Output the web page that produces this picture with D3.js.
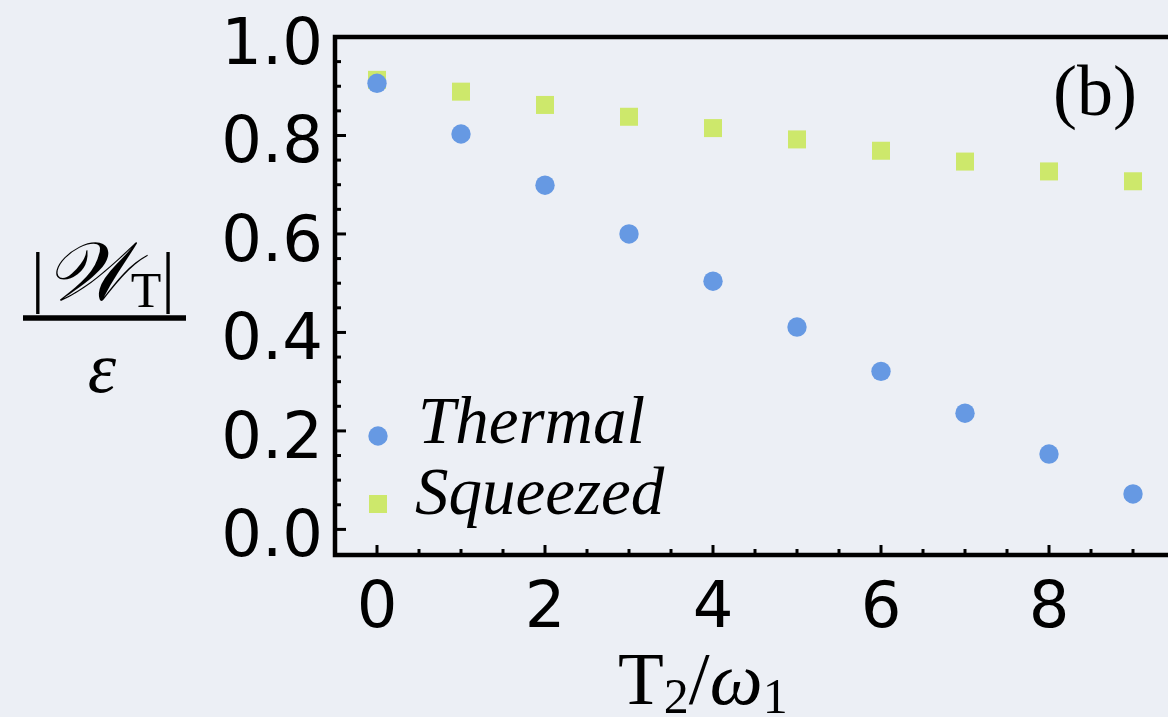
<!DOCTYPE html>
<html>
<head>
<meta charset="utf-8">
<script src="https://cdn.jsdelivr.net/npm/d3@7"></script>
<style>
  body { margin: 0; background: #eceff5; }
  svg { display: block; }
</style>
</head>
<body>
<svg id="chart"></svg>
<script>
const tValues = [0, 1, 2, 3, 4, 5, 6, 7, 8, 9];
const thermal = [0.906, 0.803, 0.699, 0.600, 0.504, 0.411, 0.321, 0.236, 0.153, 0.072];
const squeezed = [0.913, 0.889, 0.862, 0.838, 0.815, 0.792, 0.769, 0.747, 0.727, 0.707];
const xTicks = [0, 2, 4, 6, 8];
const yTicks = [0.0, 0.2, 0.4, 0.6, 0.8, 1.0];
const seriesNames = ["Thermal", "Squeezed"];

const W = 1168, H = 717;
const blue = "#6699e3", green = "#cde86b";

const svg = d3.select("#chart")
    .attr("width", W)
    .attr("height", H);

svg.append("rect").attr("width", W).attr("height", H).attr("fill", "#eceff5");

// frame goes past the right edge, as in the cropped figure
const x = d3.scaleLinear().domain([-0.5, 9.5]).range([335, 1175]);
const y = d3.scaleLinear().domain([-0.052, 1.0]).range([555, 37]);

// minor ticks
const xMinor = d3.range(-0.5, 9.51, 0.5).filter(v => v > -0.5 && v % 2 !== 0);
const yMinor = d3.range(0, 1.001, 0.05).map(v => +v.toFixed(2)).filter(v => !yTicks.includes(v) && v < 1);

const g = svg.append("g");

g.selectAll(".xminor").data(xMinor).enter().append("line")
    .attr("x1", d => x(d)).attr("x2", d => x(d))
    .attr("y1", y.range()[0]).attr("y2", y.range()[0] - 6)
    .attr("stroke", "#000").attr("stroke-width", 3);
g.selectAll(".xmajor").data(xTicks).enter().append("line")
    .attr("x1", d => x(d)).attr("x2", d => x(d))
    .attr("y1", y.range()[0]).attr("y2", y.range()[0] - 10)
    .attr("stroke", "#000").attr("stroke-width", 3);

g.selectAll(".yminor").data(yMinor).enter().append("line")
    .attr("x1", x.range()[0]).attr("x2", x.range()[0] + 6)
    .attr("y1", d => y(d)).attr("y2", d => y(d))
    .attr("stroke", "#000").attr("stroke-width", 3);
g.selectAll(".ymajor").data(yTicks.filter(d => d < 1)).enter().append("line")
    .attr("x1", x.range()[0]).attr("x2", x.range()[0] + 11)
    .attr("y1", d => y(d)).attr("y2", d => y(d))
    .attr("stroke", "#000").attr("stroke-width", 3);

// frame
g.append("rect")
    .attr("x", x.range()[0]).attr("y", y.range()[1])
    .attr("width", x.range()[1] - x.range()[0])
    .attr("height", y.range()[0] - y.range()[1])
    .attr("fill", "none").attr("stroke", "#000").attr("stroke-width", 4.5);

// tick labels
g.selectAll(".xlab").data(xTicks).enter().append("text")
    .attr("x", d => x(d)).attr("y", 627)
    .attr("text-anchor", "middle")
    .style("font-family", "DejaVu Sans").style("font-size", "64px")
    .text(d => d);
g.selectAll(".ylab").data(yTicks).enter().append("text")
    .attr("x", 323).attr("y", d => y(d) + 27)
    .attr("text-anchor", "end")
    .style("font-family", "DejaVu Sans").style("font-size", "64px")
    .text(d => d.toFixed(1));

// points
g.selectAll(".sq").data(tValues).enter().append("rect")
    .attr("x", (d, i) => x(d) - 9).attr("y", (d, i) => y(squeezed[i]) - 9)
    .attr("width", 18).attr("height", 18)
    .attr("fill", green);
g.selectAll(".th").data(tValues).enter().append("circle")
    .attr("cx", d => x(d)).attr("cy", (d, i) => y(thermal[i]))
    .attr("r", 9.7)
    .attr("fill", blue);

// legend
const serif = "'Liberation Serif', 'Times New Roman', Tinos";
g.append("circle").attr("cx", 378).attr("cy", 436).attr("r", 9.7).attr("fill", blue);
g.append("rect").attr("x", 369).attr("y", 495).attr("width", 18).attr("height", 18).attr("fill", green);
g.append("text").attr("x", 418).attr("y", 443)
    .style("font-family", serif).style("font-style", "italic").style("font-size", "67px")
    .text(seriesNames[0]);
g.append("text").attr("x", 415).attr("y", 514)
    .style("font-family", serif).style("font-style", "italic").style("font-size", "67px")
    .text(seriesNames[1]);

// panel label
g.append("text").attr("x", 1053).attr("y", 115)
    .style("font-family", serif).style("font-size", "72px")
    .text("(b)");

// x axis label
const xl = g.append("text").attr("x", 618).attr("y", 704)
    .style("font-family", serif).style("font-size", "75px");
xl.append("tspan").text("T");
xl.append("tspan").attr("dy", 9).style("font-size", "50px").text("2");
xl.append("tspan").attr("dy", -9).text("/");
xl.append("tspan").style("font-style", "italic").text("ω");
xl.append("tspan").attr("dy", 9).style("font-size", "50px").text("1");

// y axis label, as a fraction
const num = g.append("text").attr("x", 103).attr("y", 300)
    .attr("text-anchor", "middle")
    .style("font-family", serif).style("font-size", "68px");
num.append("tspan").text("|");
num.append("tspan").style("font-family", "DejaVu Serif, Liberation Serif").style("font-style", "italic").style("font-size", "82px").text("𝒲");
num.append("tspan").attr("dy", 7).style("font-size", "50px").text("T");
num.append("tspan").attr("dy", -7).text("|");
g.append("line").attr("x1", 23).attr("x2", 186).attr("y1", 318).attr("y2", 318)
    .attr("stroke", "#000").attr("stroke-width", 5.5);
g.append("text").attr("x", 102).attr("y", 392)
    .attr("text-anchor", "middle")
    .style("font-family", serif).style("font-style", "italic").style("font-size", "72px")
    .text("ε");
</script>
</body>
</html>
